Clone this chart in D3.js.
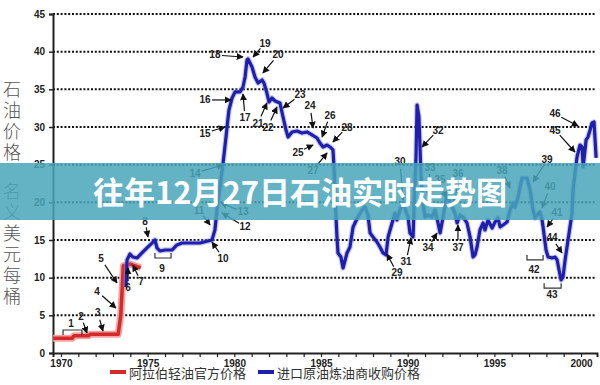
<!DOCTYPE html>
<html>
<head>
<meta charset="utf-8">
<script src="https://cdn.jsdelivr.net/npm/d3@7"></script>
<style>
  body { margin: 0; background: #fff; }
  svg { display: block; }
</style>
</head>
<body>
<div id="chartArea"></div>
<script>
// red series: official price of Arabian light
var redYears  = [1969.55, 1970.65, 1970.75, 1971.6, 1971.7, 1973.3, 1973.45, 1973.6, 1974.0, 1974.6];
var redValues = [1.95, 1.95, 2.3, 2.3, 2.5, 2.5, 5.0, 11.6, 11.8, 11.3];

// blue series: refiner acquisition cost of imported crude
var blueYears = [
  1973.75,1973.81,1973.98,1974.15,1974.38,1974.67,1974.96,1975.25,1975.42,1975.54,
  1975.71,1976.00,1976.40,1976.69,1976.98,1977.44,1978.02,1978.48,1978.71,1978.88,
  1979.00,1979.17,1979.35,1979.52,1979.58,1979.69,1979.87,1980.04,1980.33,1980.50,
  1980.62,1980.73,1980.79,1981.02,1981.19,1981.37,1981.60,1981.71,1981.88,1982.00,
  1982.17,1982.35,1982.63,1982.81,1982.98,1983.10,1983.33,1983.62,1983.90,1984.19,
  1984.48,1984.77,1984.94,1985.12,1985.35,1985.52,1985.69,1985.75,1985.81,1985.92,
  1985.98,1986.15,1986.27,1986.50,1986.67,1986.85,1986.96,1987.13,1987.37,1987.54,
  1987.71,1987.83,1988.00,1988.23,1988.40,1988.58,1988.75,1988.87,1989.10,1989.27,
  1989.38,1989.56,1989.73,1990.02,1990.13,1990.31,1990.37,1990.48,1990.54,1990.65,
  1990.71,1990.77,1990.88,1991.00,1991.17,1991.40,1991.58,1991.75,1991.87,1992.04,
  1992.21,1992.33,1992.56,1992.73,1992.85,1993.02,1993.19,1993.42,1993.60,1993.77,
  1993.88,1994.00,1994.17,1994.35,1994.46,1994.63,1994.87,1995.04,1995.21,1995.33,
  1995.50,1995.73,1995.90,1996.08,1996.19,1996.37,1996.48,1996.60,1996.77,1996.88,
  1997.06,1997.23,1997.35,1997.46,1997.63,1997.75,1997.81,1997.98,1998.10,1998.33,
  1998.50,1998.62,1998.73,1998.85,1998.96,1999.08,1999.19,1999.31,1999.48,1999.54,
  1999.65,1999.77,1999.94,2000.06,2000.12,2000.29,2000.40,2000.52,2000.63,2000.75,
  2000.87];
var blueValues = [
  8.76,12.35,13.14,12.74,12.61,13.28,13.94,14.60,15.00,13.94,
  13.54,13.67,13.67,14.34,14.60,14.60,14.60,14.87,15.00,16.33,
  18.98,22.04,25.22,28.67,30.00,32.26,33.85,34.65,34.65,35.31,
  36.64,38.90,39.03,37.97,36.64,35.84,36.24,35.84,34.51,33.32,
  33.85,33.45,33.19,31.33,29.60,28.67,29.34,29.47,29.20,29.34,
  28.94,28.54,27.88,27.35,27.61,27.35,26.95,24.69,20.71,15.40,
  13.27,12.74,11.28,13.27,14.07,16.73,17.26,18.05,18.98,19.38,
  18.32,15.93,15.40,14.74,14.07,13.27,13.01,15.40,17.26,18.58,
  17.66,18.98,19.91,18.05,15.93,15.40,19.38,26.02,32.92,31.33,
  27.35,23.36,19.91,18.05,18.32,18.05,18.98,17.26,15.93,18.05,
  20.31,20.71,19.38,18.58,17.26,18.32,18.05,17.26,15.40,12.74,
  13.01,14.07,16.33,17.26,16.33,17.66,16.59,17.39,17.92,16.73,
  16.99,17.39,18.98,19.91,19.38,20.71,22.04,23.23,23.23,23.23,
  21.64,18.98,17.92,18.32,18.72,17.66,16.73,13.67,12.74,12.61,
  12.74,12.35,11.02,9.69,10.09,12.35,14.07,15.93,18.58,21.64,
  23.89,26.02,27.61,27.35,24.69,28.28,28.67,29.60,30.53,30.66,
  25.89];

var yTicks = [0, 5, 10, 15, 20, 25, 30, 35, 40, 45];
var xLabelYears = [1970, 1975, 1980, 1985, 1990, 1995, 2000];
var yTitleChars = ["石", "油", "价", "格", "名", "义", "美", "元", "每", "桶"];
var legendNames = ["阿拉伯轻油官方价格", "进口原油炼油商收购价格"];
var titleText = "往年12月27日石油实时走势图";

// numbered arrows: label, text (year,value), arrow tip (year,value)
var annoLabels = ["2","3","4","5","6","7","8","10","11","12","13","14","15","16","17","18","19","20",
  "21","22","23","24","25","26","27","28","29","30","31","32","33","34","35","36","37","38","39","40","41","44","45","46"];
var annoTextYear = [1971.15,1972.13,1972.08,1972.31,1973.87,1974.62,1974.85,1979.35,1977.96,1980.62,1980.50,1977.73,1978.31,1978.31,1980.62,1978.88,1981.77,1982.52,
  1981.37,1981.94,1983.79,1984.37,1983.67,1985.52,1984.54,1986.50,1989.38,1989.56,1989.90,1991.75,1991.29,1991.17,1991.87,1992.90,1992.90,1995.44,1998.04,1998.21,1998.62,1998.33,1998.50,1998.50];
var annoTextValue = [4.91,5.31,8.23,12.48,8.63,9.43,17.52,12.61,18.98,16.73,18.72,23.89,29.20,33.59,31.20,39.56,41.15,39.56,
  30.53,30.00,34.25,32.79,26.68,31.59,24.29,30.00,10.62,25.36,12.08,29.60,24.69,13.94,22.97,23.89,14.07,24.29,25.62,22.04,18.59,15.27,29.60,31.73];
var annoTipYear = [1971.50,1972.42,1973.17,1973.23,1973.87,1974.15,1975.02,1978.71,1978.60,1979.29,1979.23,1979.35,1979.46,1979.81,1980.50,1980.50,1981.08,1981.65,
  1981.88,1982.46,1982.81,1984.54,1984.54,1985.06,1985.35,1985.69,1988.81,1989.73,1990.19,1990.83,1991.17,1991.69,1992.21,1992.73,1992.90,1995.90,1997.23,1997.75,1998.04,1998.90,1999.65,1999.83];
var annoTipValue = [2.65,2.92,5.97,9.29,11.28,11.68,15.40,14.73,16.99,18.59,19.91,24.96,30.00,33.59,34.38,39.29,39.29,37.17,
  33.19,32.66,32.52,29.87,27.61,28.67,26.55,28.01,13.14,20.31,15.27,27.35,20.84,15.93,20.58,19.65,16.99,21.90,22.70,19.25,16.73,13.27,26.68,30.13];

// bracket annotations
var bracketLabels = ["1", "9", "42", "43"];
var bracketFrom   = [1970.12, 1975.42, 1996.88, 1997.87];
var bracketTo     = [1971.21, 1976.35, 1997.81, 1998.85];
var bracketValue  = [3.05, 12.61, 12.35, 8.6];
var bracketTextYear  = [1970.58, 1975.83, 1997.29, 1998.33];
var bracketTextValue = [3.98, 11.28, 11.02, 7.8];
var bracketDir = [-1, 1, 1, 1];

var width = 600, height = 385;
var margin = {top: 14, right: 3, bottom: 32, left: 53};

var xscale = d3.scaleLinear().domain([1969.54, 2000.92]).range([margin.left, width - margin.right]);
var yscale = d3.scaleLinear().domain([0, 45]).range([height - margin.bottom, margin.top]);

var svg = d3.select("#chartArea").append("svg")
    .attr("width", width)
    .attr("height", height);

var defs = svg.append("defs");
defs.append("marker")
    .attr("id", "arrow")
    .attr("viewBox", "0 0 10 10")
    .attr("refX", 9).attr("refY", 5)
    .attr("markerWidth", 7).attr("markerHeight", 7)
    .attr("markerUnits", "userSpaceOnUse")
    .attr("orient", "auto")
  .append("path")
    .attr("d", "M0,0 L10,5 L0,10 z")
    .attr("fill", "#111");

// dotted gridlines
svg.append("g")
    .selectAll("line").data(yTicks.slice(1)).enter().append("line")
    .attr("x1", margin.left).attr("x2", width - 5)
    .attr("y1", function(d){ return yscale(d); })
    .attr("y2", function(d){ return yscale(d); })
    .attr("stroke", "#111")
    .attr("stroke-width", 2)
    .attr("stroke-dasharray", "2,1.8");

// y axis
var yAxis = svg.append("g")
    .attr("transform", "translate(" + margin.left + ",0)")
    .call(d3.axisLeft(yscale).tickValues(yTicks).tickSize(4).tickPadding(4));
yAxis.select(".domain").attr("stroke", "#222").attr("stroke-width", 2);
yAxis.selectAll(".tick line").attr("stroke", "#222").attr("stroke-width", 1.5);
yAxis.selectAll("text")
    .style("font-family", "Arial, 'Liberation Sans', sans-serif")
    .style("font-size", "10px")
    .style("font-weight", "bold")
    .attr("fill", "#222");

// x axis: ticks every year, labels every 5
var xAxis = svg.append("g")
    .attr("transform", "translate(0," + yscale(0) + ")")
    .call(d3.axisBottom(xscale).tickValues(d3.range(1970, 2001)).tickSize(4).tickPadding(3)
      .tickFormat(function(d){ return xLabelYears.indexOf(d) >= 0 ? d : ""; }));
xAxis.select(".domain").attr("stroke", "#222").attr("stroke-width", 2);
xAxis.selectAll(".tick line").attr("stroke", "#222").attr("stroke-width", 1.2);
xAxis.selectAll("text")
    .style("font-family", "Arial, 'Liberation Sans', sans-serif")
    .style("font-size", "10px")
    .style("font-weight", "bold")
    .attr("fill", "#222");

var line = d3.line()
    .x(function(d){ return xscale(d[0]); })
    .y(function(d){ return yscale(d[1]); });

var redData = redYears.map(function(y, i){ return [y, redValues[i]]; });
var blueData = blueYears.map(function(y, i){ return [y, blueValues[i]]; });

// red line with soft pink halo
svg.append("path").datum(redData)
    .attr("d", line).attr("fill", "none")
    .attr("stroke", "#f3a3a3").attr("stroke-width", 7).attr("stroke-linejoin", "round");
svg.append("path").datum(redData)
    .attr("d", line).attr("fill", "none")
    .attr("stroke", "#d42a2a").attr("stroke-width", 3.5).attr("stroke-linejoin", "round");

// blue line
svg.append("path").datum(blueData)
    .attr("d", line).attr("fill", "none")
    .attr("stroke", "#8f8fdc").attr("stroke-width", 5.5).attr("stroke-linejoin", "round")
    .attr("opacity", 0.5);
svg.append("path").datum(blueData)
    .attr("d", line).attr("fill", "none")
    .attr("stroke", "#1f1fae").attr("stroke-width", 3.2).attr("stroke-linejoin", "round");

// numbered annotations
var annoFont = "Arial, 'Liberation Sans', sans-serif";
var ag = svg.append("g");
annoLabels.forEach(function(lab, i){
    var tx = xscale(annoTextYear[i]), ty = yscale(annoTextValue[i]);
    var hx = xscale(annoTipYear[i]), hy = yscale(annoTipValue[i]);
    var dx = hx - tx, dy = hy - ty, len = Math.sqrt(dx*dx + dy*dy);
    var off = Math.min(7, len * 0.4);
    ag.append("line")
        .attr("x1", tx + dx / len * off).attr("y1", ty + dy / len * off)
        .attr("x2", hx).attr("y2", hy)
        .attr("stroke", "#111").attr("stroke-width", 1.2)
        .attr("marker-end", "url(#arrow)");
    ag.append("text")
        .attr("x", tx).attr("y", ty)
        .attr("text-anchor", "middle").attr("dominant-baseline", "central")
        .style("font-family", annoFont).style("font-size", "10px").style("font-weight", "bold")
        .attr("fill", "#222")
        .text(lab);
});

bracketLabels.forEach(function(lab, i){
    var x1 = xscale(bracketFrom[i]), x2 = xscale(bracketTo[i]), y = yscale(bracketValue[i]);
    var t = -5 * bracketDir[i];
    ag.append("path")
        .attr("d", "M" + x1 + "," + (y + t) + "L" + x1 + "," + y + "L" + x2 + "," + y + "L" + x2 + "," + (y + t))
        .attr("fill", "none").attr("stroke", "#333").attr("stroke-width", 1.2);
    ag.append("text")
        .attr("x", xscale(bracketTextYear[i])).attr("y", yscale(bracketTextValue[i]))
        .attr("text-anchor", "middle").attr("dominant-baseline", "central")
        .style("font-family", annoFont).style("font-size", "10px").style("font-weight", "bold")
        .attr("fill", "#222")
        .text(lab);
});

// vertical y-axis title
svg.append("g").selectAll("text").data(yTitleChars).enter().append("text")
    .attr("x", 12)
    .attr("y", function(d, i){ return 88 + i * 21 + (i >= 4 ? 18 : 0); })
    .attr("text-anchor", "middle").attr("dominant-baseline", "central")
    .style("font-family", "'Noto Sans CJK SC', sans-serif")
    .style("font-size", "18px").style("font-weight", 300)
    .attr("fill", "#555")
    .text(function(d){ return d; });

// legend
var legendColors = ["#d42a2a", "#1f1fae"];
var legendX = [110, 258];
var lg = svg.append("g");
legendNames.forEach(function(name, i){
    lg.append("line")
        .attr("x1", legendX[i]).attr("x2", legendX[i] + 16)
        .attr("y1", 372).attr("y2", 372)
        .attr("stroke", legendColors[i]).attr("stroke-width", 4);
    lg.append("text")
        .attr("x", legendX[i] + 19).attr("y", 372)
        .attr("dominant-baseline", "central")
        .style("font-family", "'Noto Sans CJK SC', sans-serif")
        .style("font-size", "13px")
        .attr("fill", "#333")
        .text(name);
});

// title banner over the middle of the chart
svg.append("rect")
    .attr("x", 0).attr("y", 163)
    .attr("width", width).attr("height", 57)
    .attr("fill", "#48a6ba").attr("opacity", 0.85);
svg.append("text")
    .attr("x", width / 2).attr("y", 204)
    .attr("text-anchor", "middle")
    .style("font-family", "'Noto Sans CJK SC', sans-serif")
    .style("font-size", "31px").style("font-weight", "bold")
    .attr("fill", "#fff")
    .text(titleText);
</script>
</body>
</html>
